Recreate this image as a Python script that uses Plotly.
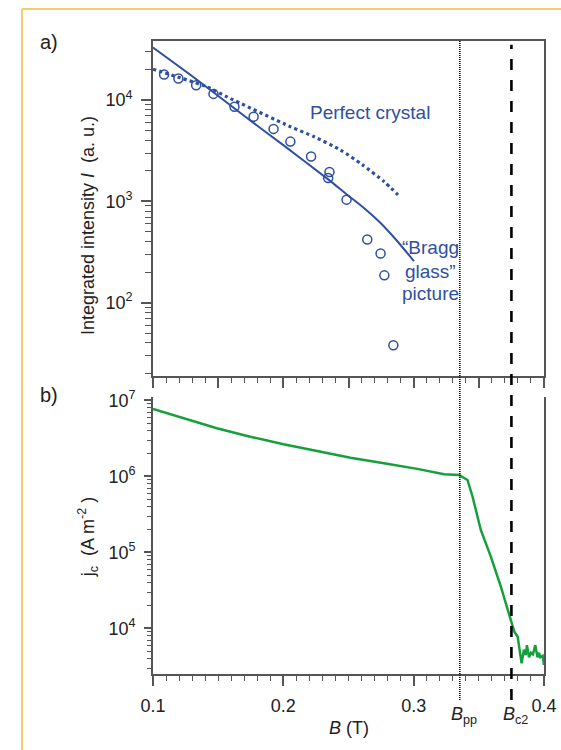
import plotly.graph_objects as go

# ---------------- data ----------------
# top panel: integrated intensity (a.u.) vs B (T)
b_points = [0.1085, 0.1195, 0.1331, 0.1464, 0.1625, 0.1772, 0.1925, 0.2054,
            0.2213, 0.2354, 0.2344, 0.2485, 0.2644, 0.2746, 0.2775, 0.2844]
i_points = [17900, 16300, 14000, 11500, 8590, 6850, 5190, 3890,
            2770, 1950, 1700, 1040, 420, 306, 186, 38]

b_bragg = [0.1, 0.135, 0.1746, 0.2, 0.2349, 0.249, 0.2618, 0.2746, 0.2875, 0.3002]
i_bragg = [32960, 15420, 6280, 3590, 1630, 1160, 861, 612, 404, 257]

b_perfect = [0.1, 0.1413, 0.1567, 0.2054, 0.2233, 0.2438, 0.2608, 0.2772, 0.288]
i_perfect = [20180, 13520, 10760, 5460, 4360, 3220, 2290, 1570, 1160]

# bottom panel: critical current density jc (A m^-2) vs B (T)
b_jc = [0.1, 0.1233, 0.149, 0.1746, 0.2002, 0.2259, 0.2515, 0.2772, 0.3028, 0.3233,
        0.3348, 0.3413, 0.3452, 0.3515, 0.3592, 0.3669, 0.3721, 0.3754, 0.3772, 0.3798,
        0.3812, 0.3828, 0.3846, 0.386, 0.3869, 0.3885, 0.39, 0.3915, 0.3933, 0.395,
        0.3962, 0.3972, 0.399, 0.4]
jc = [7.73e6, 5.83e6, 4.31e6, 3.34e6, 2.65e6, 2.17e6, 1.77e6, 1.49e6, 1.26e6, 1.07e6,
      1.05e6, 9.0e5, 5.42e5, 1.98e5, 8.81e4, 3.55e4, 1.75e4, 1.10e4, 9.08e3, 7.80e3,
      5.62e3, 3.48e3, 5.25e3, 4.47e3, 6.03e3, 4.17e3, 4.79e3, 4.57e3, 6.03e3, 4.17e3,
      4.79e3, 4.17e3, 4.37e3, 3.31e3]

B_pp = 0.3354
B_c2 = 0.375

x_major = [0.1, 0.15, 0.2, 0.25, 0.3, 0.35, 0.4]
x_major_text = ["0.1", "", "0.2", "", "0.3", "", "0.4"]
x_minor = [round(0.1 + 0.01 * k, 2) for k in range(31)]

top_decades = [100, 1000, 10000]
top_decade_text = ["10<sup>2</sup>", "10<sup>3</sup>", "10<sup>4</sup>"]
bot_decades = [1e4, 1e5, 1e6, 1e7]
bot_decade_text = ["10<sup>4</sup>", "10<sup>5</sup>", "10<sup>6</sup>", "10<sup>7</sup>"]

# ---------------- style ----------------
BLUE = "#2f4fa2"
GREEN = "#16a03c"
AX = "#555555"
TXT = "#222222"
FONT = "Liberation Sans, Arial, Helvetica, sans-serif"

def minor_log(lo_exp, hi_exp):
    vals = []
    for e in range(lo_exp, hi_exp + 1):
        for m in range(2, 10):
            vals.append(m * 10 ** e)
    return vals

fig = go.Figure()

# top panel
fig.add_trace(go.Scatter(x=b_perfect, y=i_perfect, mode="lines", xaxis="x2", yaxis="y2",
                         line=dict(color=BLUE, width=3.2, dash="dot", shape="spline",
                                   smoothing=0.6), showlegend=False))
fig.add_trace(go.Scatter(x=b_bragg, y=i_bragg, mode="lines", xaxis="x2", yaxis="y2",
                         line=dict(color=BLUE, width=2, shape="spline", smoothing=0.6),
                         showlegend=False))
fig.add_trace(go.Scatter(x=b_points, y=i_points, mode="markers", xaxis="x2", yaxis="y2",
                         marker=dict(symbol="circle-open", size=9, color=BLUE,
                                     line=dict(width=1.5, color=BLUE)),
                         showlegend=False))
# bottom panel
fig.add_trace(go.Scatter(x=b_jc, y=jc, mode="lines", xaxis="x", yaxis="y",
                         line=dict(color=GREEN, width=2.5), showlegend=False))

common_x = dict(range=[0.1, 0.4], showline=True, linecolor=AX, linewidth=1.8,
                ticks="outside", tickcolor=AX, tickwidth=1.5, ticklen=10,
                tickmode="array", tickvals=x_major, showgrid=False, zeroline=False,
                automargin=False,
                minor=dict(tickmode="array", tickvals=x_minor, ticks="outside",
                           ticklen=5, tickcolor=AX, tickwidth=1.2))

fig.update_layout(
    width=561, height=750, autosize=False,
    margin=dict(l=153, r=17, t=41, b=76, autoexpand=False),
    paper_bgcolor="white", plot_bgcolor="white",
    font=dict(family=FONT, color=TXT, size=18),
    xaxis=dict(**common_x, anchor="y", ticktext=x_major_text,
               tickfont=dict(size=18, color=TXT), ticklabelstandoff=4),
    xaxis2=dict(**common_x, anchor="y2", matches="x", showticklabels=False,
                mirror=True),
    yaxis=dict(type="log", domain=[0, 0.4376], range=[3.401, 7.046],
               showline=True, mirror=True, linecolor=AX, linewidth=1.8,
               ticks="outside", tickcolor=AX, tickwidth=1.5, ticklen=7,
               tickmode="array", tickvals=bot_decades, ticktext=bot_decade_text,
               tickfont=dict(size=18, color=TXT), ticklabelstandoff=5,
               showgrid=False, zeroline=False, automargin=False,
               minor=dict(tickmode="array", tickvals=minor_log(3, 6), ticks="outside",
                          ticklen=4, tickcolor=AX, tickwidth=1.2)),
    yaxis2=dict(type="log", domain=[0.4708, 1], range=[1.276, 4.583],
                showline=True, mirror=True, linecolor=AX, linewidth=1.8,
                ticks="outside", tickcolor=AX, tickwidth=1.5, ticklen=10,
                tickmode="array", tickvals=top_decades, ticktext=top_decade_text,
                tickfont=dict(size=18, color=TXT), ticklabelstandoff=5,
                showgrid=False, zeroline=False, automargin=False,
                minor=dict(tickmode="array", tickvals=minor_log(1, 4), ticks="outside",
                           ticklen=6, tickcolor=AX, tickwidth=1.2)),
)

# vertical marker lines across both panels
fig.add_shape(type="line", xref="x", yref="paper", x0=B_pp, x1=B_pp, y0=-0.041, y1=1.0,
              line=dict(color="black", width=1.6, dash="1px,1px"))
fig.add_shape(type="line", xref="x", yref="paper", x0=B_c2, x1=B_c2, y0=-0.041, y1=0.994,
              line=dict(color="black", width=2.6, dash="11px,10px"))

# orange frame (top and left edges)
FRAME = "#f8cb6a"
fig.add_shape(type="line", xref="paper", yref="paper", x0=-0.335, x1=1.05, y0=1.0506, y1=1.0506,
              line=dict(color=FRAME, width=2))
fig.add_shape(type="line", xref="paper", yref="paper", x0=-0.335, x1=-0.335, y0=1.0506, y1=-0.13,
              line=dict(color=FRAME, width=2))

def A(text, x, y, xref="paper", yref="paper", size=18, color=TXT, angle=0):
    return dict(text=text, xref=xref, yref=yref, x=x, y=y, xanchor="center",
                yanchor="middle", showarrow=False, textangle=angle,
                font=dict(size=size, color=color, family=FONT))

ann = [
    A("a)", -0.266, 0.998, size=20),
    A("b)", -0.266, 0.4408, size=20),
    A("Integrated intensity <i>I</i>  (a. u.)", -0.166, 0.7077, angle=-90),
    A("j<sub>c</sub>  (A m<sup>-2</sup> )", -0.168, 0.2164, angle=-90),
    A("<i>B</i> (T)", 0.5, -0.0853),
    A("<i>B</i><sub>pp</sub>", B_pp + 0.003, -0.0648, xref="x"),
    A("<i>B</i><sub>c2</sub>", B_c2 + 0.003, -0.0648, xref="x"),
    A("Perfect crystal", 0.2662, 3.882, xref="x2", yref="y2", size=19, color=BLUE),
]
for txt, yy in [("\u201cBragg", 2.545), ("glass\u201d", 2.309), ("picture", 2.092)]:
    ann.append(A(txt, 0.3126, yy, xref="x2", yref="y2", size=19, color=BLUE))
fig.update_layout(annotations=ann)

fig.write_html("out.html", config={"displayModeBar": False},
               post_script="document.body.style.margin='0';document.body.style.overflow='hidden';")
